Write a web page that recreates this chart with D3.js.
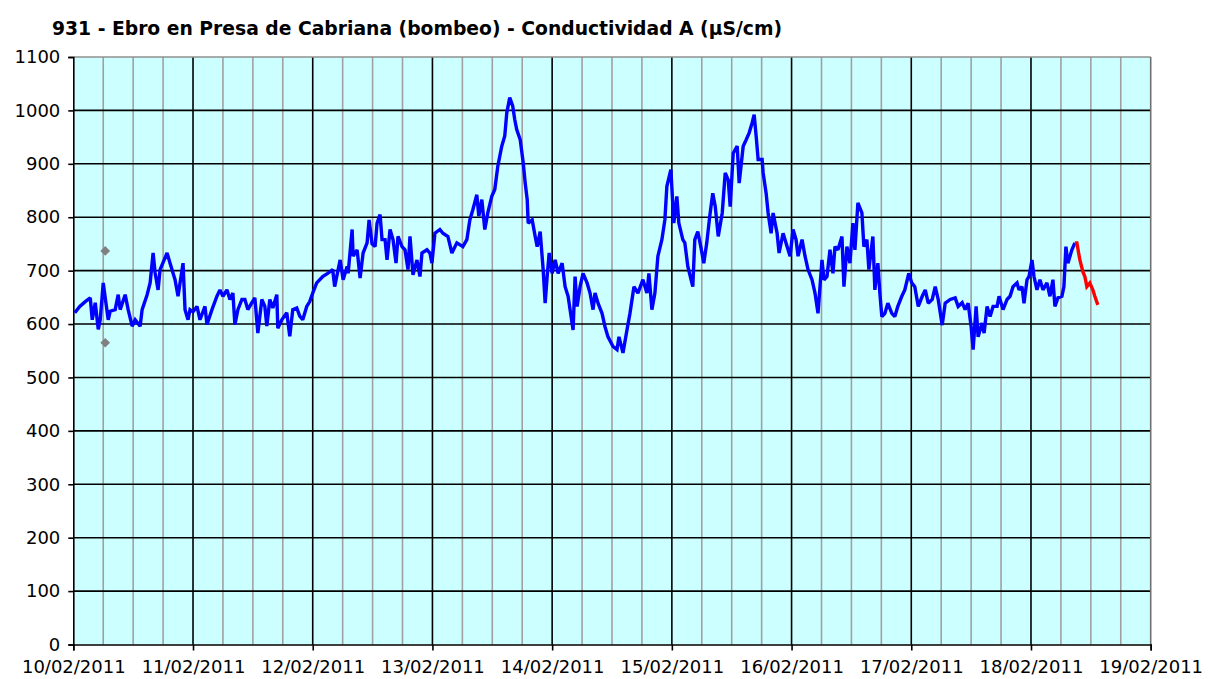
<!DOCTYPE html>
<html>
<head>
<meta charset="utf-8">
<script src="https://cdn.jsdelivr.net/npm/d3@7"></script>
<style>
  html, body { margin: 0; padding: 0; background: #ffffff; }
  svg { display: block; }
</style>
</head>
<body>
<svg id="chart" width="1208" height="679"></svg>
<script>
// ---- data (hours since 10/02/2011 00:00, conductivity µS/cm) ----
const title = "931 - Ebro en Presa de Cabriana (bombeo) - Conductividad A (µS/cm)";
const startDate = new Date(2011, 1, 10, 0, 0);
const endDate = new Date(2011, 1, 19, 0, 0);
const yTicks = [0, 100, 200, 300, 400, 500, 600, 700, 800, 900, 1000, 1100];

const blueHours = [0.3,1.3,2.4,3.4,3.8,4.4,5.0,5.4,6.0,7.0,7.4,8.4,9.0,9.4,10.4,11.0,11.8,12.4,13.4,13.8,
  14.8,15.4,16.0,16.4,17.0,17.4,18.8,19.4,20.4,21.0,22.0,22.4,23.0,23.4,24.0,24.8,25.4,26.4,26.8,27.8,
  28.8,29.4,30.0,30.8,31.4,32.0,32.4,33.0,33.8,34.4,35.0,35.8,36.4,37.0,37.8,38.4,38.8,39.4,40.0,40.8,
  41.0,41.8,42.8,43.4,44.0,44.8,45.4,46.0,46.8,47.4,48.0,48.8,50.0,51.0,52.0,52.4,53.5,54.1,54.9,55.1,
  55.9,56.1,56.9,57.5,58.1,58.9,59.3,59.9,60.5,60.9,61.5,61.9,62.5,62.9,63.5,64.1,64.7,65.1,65.9,66.5,
  67.1,67.5,68.1,68.9,69.5,69.9,70.9,71.5,71.9,72.5,73.5,74.1,75.1,75.9,76.9,78.1,78.9,79.5,80.1,80.9,
  81.3,81.9,82.5,83.1,83.9,84.5,85.1,85.9,86.5,86.9,87.5,88.1,88.5,88.9,89.6,90.2,90.6,91.0,91.2,92.0,
  92.6,93.0,93.6,94.2,94.6,95.0,95.4,96.0,96.6,97.2,98.0,98.6,99.2,100.2,100.6,101.0,101.6,102.2,103.0,103.6,
  104.2,104.6,105.2,106.0,106.6,107.2,108.2,109.0,109.4,110.2,111.0,111.6,112.4,113.2,114.2,115.0,115.4,116.0,116.6,117.2,
  118.0,118.6,119.0,119.8,120.4,121.0,121.4,122.2,122.6,123.2,124.2,124.6,125.2,125.8,126.4,127.0,127.6,128.2,128.7,129.3,
  130.1,130.7,131.3,131.7,132.3,133.1,133.5,134.3,134.9,135.5,136.1,136.5,136.9,137.3,138.1,138.3,138.9,139.3,139.9,140.3,
  141.1,141.5,142.3,143.1,143.7,144.3,144.9,145.3,146.1,146.7,147.3,148.1,148.7,149.3,150.1,150.5,151.1,151.7,152.3,152.7,
  153.3,154.1,154.5,155.1,155.7,156.3,156.7,157.3,158.1,158.5,159.1,159.5,160.3,160.7,161.3,161.7,162.1,162.7,163.3,164.1,
  164.7,165.3,166.1,166.7,167.5,168.1,168.7,169.4,170.2,170.8,171.4,172.2,172.8,173.4,174.2,174.8,175.8,176.8,177.4,178.2,
  178.8,179.4,180.0,180.4,181.0,181.4,182.2,182.6,183.2,183.8,184.4,185.2,185.6,186.4,187.2,187.8,188.4,189.2,189.6,190.2,
  190.6,191.2,191.6,192.2,192.6,193.2,193.8,194.4,195.2,195.8,196.4,196.8,197.4,198.2,198.6,199.0,199.4,200.2,200.8];
const blueValues = [621,633,642,649,608,640,590,608,677,608,624,627,655,627,655,627,596,608,596,627,
  655,677,733,696,664,702,733,714,683,652,714,627,608,627,623,633,608,633,599,627,
  652,664,652,664,646,658,599,627,646,646,627,640,649,583,646,633,596,646,630,655,
  592,608,621,577,627,630,615,608,633,642,658,677,689,695,702,670,720,683,708,695,
  777,727,739,686,733,752,795,750,745,789,805,758,758,720,777,758,714,764,745,739,
  702,764,692,720,689,733,739,733,714,770,777,770,764,733,752,745,758,795,814,842,
  802,833,777,808,839,852,895,933,952,995,1024,1008,983,964,945,902,864,833,789,795,
  764,745,773,702,639,689,733,695,720,695,714,670,652,589,689,633,670,695,677,658,
  627,658,639,620,595,576,558,552,576,546,589,620,670,658,683,658,695,627,658,727,
  758,795,858,889,789,839,789,758,752,708,670,758,773,745,714,752,802,845,820,764,
  808,883,870,820,920,933,864,933,945,958,977,992,952,908,908,883,845,808,770,808,
  770,733,770,745,727,777,758,727,758,727,702,683,658,620,720,683,689,739,695,745,
  739,764,670,745,714,789,739,827,808,745,758,702,764,664,714,658,614,620,639,620,
  614,633,652,664,695,677,670,633,652,664,639,646,670,646,598,639,646,649,633,640,
  627,639,595,552,633,576,602,583,633,614,633,633,652,627,646,652,670,677,664,670,
  639,683,689,720,689,664,683,664,677,652,683,633,649,652,670,745,714,739,752];

const redHours = [200.8,201.2,201.8,202.4,202.8,203.2,203.8,204.4,204.8,205.4];
const redValues = [752,752,720,698,689,670,677,664,652,636];

const markerHours = [6.4, 6.4];
const markerValues = [737, 565];

// ---- layout ----
const svg = d3.select("#chart");
const plot = { left: 73.3, right: 1150.7, top: 57, bottom: 644.5 };

const toDate = h => new Date(startDate.getTime() + h * 3600 * 1000);
const x = d3.scaleTime().domain([startDate, endDate]).range([plot.left, plot.right]);
const y = d3.scaleLinear().domain([0, 1100]).range([plot.bottom, plot.top]);

const font = "DejaVu Sans, Verdana, sans-serif";

// background
svg.append("rect")
  .attr("x", plot.left).attr("y", plot.top)
  .attr("width", plot.right - plot.left).attr("height", plot.bottom - plot.top)
  .attr("fill", "#ccffff");

// minor vertical grid (every 6h)
const minorTimes = d3.timeHour.every(6).range(startDate, endDate).filter(d => d.getHours() !== 0);
svg.append("g").selectAll("line").data(minorTimes).join("line")
  .attr("x1", d => x(d)).attr("x2", d => x(d))
  .attr("y1", plot.top).attr("y2", plot.bottom)
  .attr("stroke", "#a0a0a0").attr("stroke-width", 1.6);

// horizontal grid
svg.append("g").selectAll("line").data(yTicks.filter(v => v > 0 && v < 1100)).join("line")
  .attr("x1", plot.left).attr("x2", plot.right)
  .attr("y1", d => y(d)).attr("y2", d => y(d))
  .attr("stroke", "#000").attr("stroke-width", 1.6);

// major vertical grid (days)
const dayTimes = d3.timeDay.range(startDate, d3.timeDay.offset(endDate, 1));
svg.append("g").selectAll("line").data(dayTimes.filter(d => +d > +startDate && +d < +endDate)).join("line")
  .attr("x1", d => x(d)).attr("x2", d => x(d))
  .attr("y1", plot.top).attr("y2", plot.bottom)
  .attr("stroke", "#000").attr("stroke-width", 1.6);

// plot border top/right (grey)
svg.append("line").attr("x1", plot.left).attr("x2", plot.right).attr("y1", plot.top).attr("y2", plot.top)
  .attr("stroke", "#909090").attr("stroke-width", 1.6);
svg.append("line").attr("x1", plot.right).attr("x2", plot.right).attr("y1", plot.top).attr("y2", plot.bottom)
  .attr("stroke", "#707070").attr("stroke-width", 1.6);

// axes
const yAxis = d3.axisLeft(y).tickValues(yTicks).tickSize(5).tickPadding(8).tickFormat(d3.format("d"));
const gy = svg.append("g").attr("transform", `translate(${plot.left},0)`).call(yAxis);
gy.select(".domain").attr("stroke", "#000").attr("stroke-width", 1.6);
gy.selectAll(".tick line").attr("stroke", "#000").attr("stroke-width", 1.6);
gy.selectAll("text").attr("font-family", font).attr("font-size", 18).attr("fill", "#000");

const xAxis = d3.axisBottom(x).tickValues(dayTimes).tickSize(6).tickPadding(10)
  .tickFormat(d3.timeFormat("%d/%m/%Y"));
const gx = svg.append("g").attr("transform", `translate(0,${plot.bottom})`).call(xAxis);
gx.select(".domain").attr("stroke", "#000").attr("stroke-width", 1.6);
gx.selectAll(".tick line").attr("stroke", "#000").attr("stroke-width", 1.6);
gx.selectAll("text").attr("font-family", font).attr("font-size", 18).attr("fill", "#000");

// series
const line = d3.line().x(d => x(toDate(d[0]))).y(d => y(d[1]));
const blueData = blueHours.map((h, i) => [h, blueValues[i]]);
const redData = redHours.map((h, i) => [h, redValues[i]]);

svg.append("path").datum(blueData).attr("d", line)
  .attr("fill", "none").attr("stroke", "#0000ff").attr("stroke-width", 3.4)
  .attr("stroke-linejoin", "miter").attr("stroke-miterlimit", 2);
svg.append("path").datum(redData).attr("d", line)
  .attr("fill", "none").attr("stroke", "#ff0000").attr("stroke-width", 3.4);

// grey diamond markers
svg.append("g").selectAll("path").data(markerHours.map((h, i) => [h, markerValues[i]])).join("path")
  .attr("d", d3.symbol().type(d3.symbolDiamond2).size(60))
  .attr("transform", d => `translate(${x(toDate(d[0]))},${y(d[1])})`)
  .attr("fill", "#808080");

// title
svg.append("text")
  .attr("x", 52).attr("y", 35)
  .attr("font-family", font).attr("font-weight", "bold").attr("font-size", 19)
  .attr("textLength", 730).attr("lengthAdjust", "spacingAndGlyphs")
  .attr("fill", "#000")
  .text(title);
</script>
</body>
</html>
